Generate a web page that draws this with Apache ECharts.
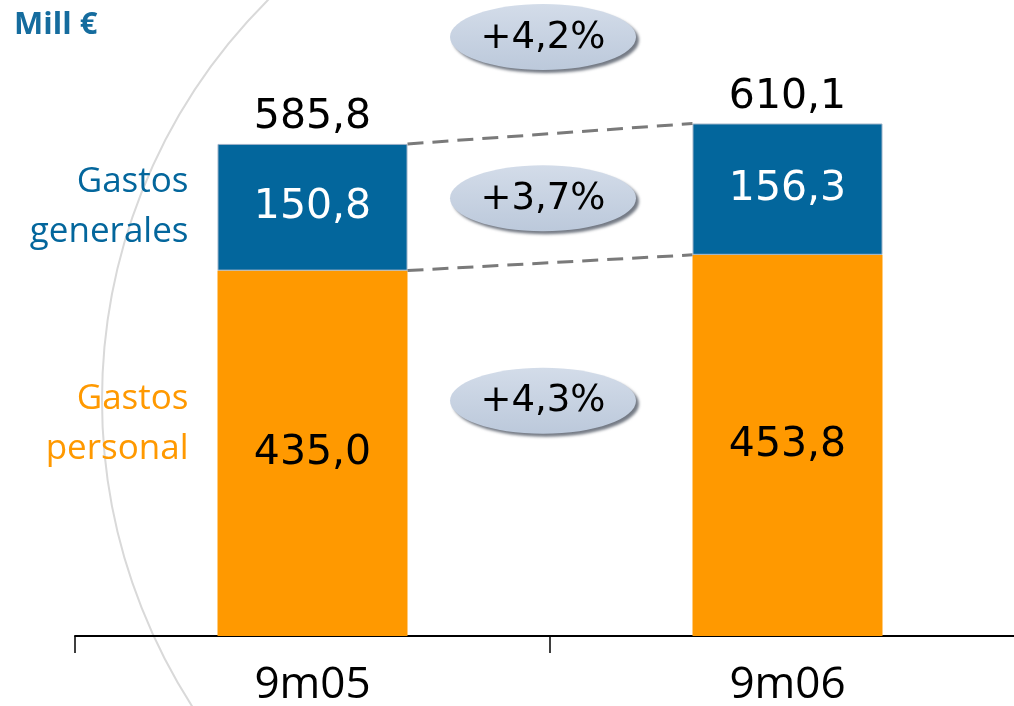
<!DOCTYPE html>
<html>
<head>
<meta charset="utf-8">
<script src="https://cdn.jsdelivr.net/npm/echarts@6/dist/echarts.min.js"></script>
<style>
  html, body { margin: 0; padding: 0; background: #ffffff; }
  #chart { width: 1014px; height: 706px; }
</style>
</head>
<body>
<div id="chart"></div>
<script>
// Gastos de explotación (millones de euros)
const categories = ['9m05', '9m06'];
const gastosPersonal = [435.0, 453.8];
const gastosGenerales = [150.8, 156.3];
const totales = [585.8, 610.1];
const seriesNames = ['Gastos\npersonal', 'Gastos\ngenerales'];
// Variación interanual: total, gastos generales, gastos de personal
const variaciones = ['+4,2%', '+3,7%', '+4,3%'];

const ORANGE = '#FF9900';
const BLUE = '#03669C';
const FONT = 'Open Sans';
const NUM_FONT = 'DejaVu Sans';
const BAR_W = 190;
const Y_MAX = 700;

const fmt = v => v.toFixed(1).replace('.', ',');

function ellipse(cx, cy, text) {
  return {
    type: 'group',
    children: [
      {
        type: 'ellipse',
        shape: { cx: cx, cy: cy, rx: 93, ry: 33 },
        style: {
          fill: new echarts.graphic.LinearGradient(0, 0, 0, 1, [
            { offset: 0, color: '#D3DCE9' },
            { offset: 1, color: '#BCC9DB' }
          ]),
          shadowColor: 'rgba(70,78,92,0.75)',
          shadowBlur: 3,
          shadowOffsetX: 3,
          shadowOffsetY: 3
        }
      },
      {
        type: 'text',
        x: cx, y: cy + 1,
        style: {
          text: text, fill: '#000', font: '37px "' + NUM_FONT + '"',
          align: 'center', verticalAlign: 'middle'
        }
      }
    ]
  };
}

// Conectores, rótulos de serie y variaciones
function renderAnnotations(params, api) {
  const half = BAR_W / 2;
  const x0 = api.coord([0, 0])[0];
  const x1 = api.coord([1, 0])[0];
  const yOf = v => api.coord([0, v])[1];
  const children = [];

  const dash = { stroke: '#7A7A7A', lineWidth: 3, lineDash: [16, 9] };
  children.push({
    type: 'line',
    shape: { x1: x0 + half, y1: yOf(totales[0]), x2: x1 - half, y2: yOf(totales[1]) },
    style: dash
  });
  children.push({
    type: 'line',
    shape: { x1: x0 + half, y1: yOf(gastosPersonal[0]), x2: x1 - half, y2: yOf(gastosPersonal[1]) },
    style: dash
  });

  // Nombres de serie a la izquierda de la primera barra
  const labelX = x0 - half - 29;
  children.push({
    type: 'text', x: labelX, y: yOf(gastosPersonal[0] + gastosGenerales[0] / 2),
    style: { text: seriesNames[1], fill: BLUE, font: '35px "' + FONT + '"', align: 'right', verticalAlign: 'middle', lineHeight: 50 }
  });
  children.push({
    type: 'text', x: labelX, y: yOf(gastosPersonal[0] * 0.58),
    style: { text: seriesNames[0], fill: ORANGE, font: '35px "' + FONT + '"', align: 'right', verticalAlign: 'middle', lineHeight: 50 }
  });

  const cx = (x0 + x1) / 2 - 7;
  const blueMid = (gastosPersonal[0] + gastosGenerales[0] / 2 + gastosPersonal[1] + gastosGenerales[1] / 2) / 2;
  const orangeMid = (gastosPersonal[0] + gastosPersonal[1]) / 2 * 0.63;
  children.push(ellipse(cx, yOf(Y_MAX) - 11, variaciones[0]));
  children.push(ellipse(cx, yOf(blueMid), variaciones[1]));
  children.push(ellipse(cx, yOf(orangeMid), variaciones[2]));

  return { type: 'group', children: children };
}

const chart = echarts.init(document.getElementById('chart'));
chart.setOption({
  animation: false,
  textStyle: { fontFamily: FONT },
  graphic: [
    {
      type: 'circle', z: -10, silent: true,
      shape: { cx: 667, cy: 400, r: 565 },
      style: { fill: 'none', stroke: '#D9D9D9', lineWidth: 2 }
    },
    {
      type: 'text', left: 14, top: 10,
      style: { text: 'Mill €', fill: '#156C9E', font: 'bold 31px "' + FONT + '"' }
    }
  ],
  grid: { left: 75, top: 48, width: 950, height: 588, outerBoundsMode: 'none', containLabel: false },
  xAxis: {
    type: 'category',
    data: categories,
    axisLine: { lineStyle: { color: '#000', width: 2 } },
    axisTick: { show: true, length: 17, lineStyle: { color: '#000', width: 1.5 } },
    axisLabel: { color: '#000', fontSize: 44, margin: 27, fontFamily: FONT }
  },
  yAxis: {
    type: 'value', min: 0, max: Y_MAX, show: false,
    splitLine: { show: false }
  },
  series: [
    {
      name: 'Gastos personal', type: 'bar', stack: 'gastos', barWidth: BAR_W,
      data: gastosPersonal,
      itemStyle: { color: ORANGE },
      label: { show: true, position: 'inside', color: '#000', fontSize: 41, fontFamily: NUM_FONT, formatter: p => fmt(p.value) }
    },
    {
      name: 'Gastos generales', type: 'bar', stack: 'gastos', barWidth: BAR_W,
      data: gastosGenerales,
      itemStyle: { color: BLUE, borderColor: '#9DB2C8', borderWidth: 1 },
      label: { show: true, position: 'inside', color: '#fff', fontSize: 41, fontFamily: NUM_FONT, formatter: p => fmt(p.value) }
    },
    {
      name: 'Total', type: 'bar', barWidth: BAR_W, barGap: '-100%', silent: true, z: 1,
      data: totales,
      itemStyle: { color: 'rgba(0,0,0,0)' },
      label: { show: true, position: 'top', distance: 6, color: '#000', fontSize: 41, fontFamily: NUM_FONT, formatter: p => fmt(p.value) }
    },
    {
      type: 'custom', silent: true, z: 5,
      data: [[0, 0]],
      renderItem: renderAnnotations
    }
  ]
});
</script>
</body>
</html>
